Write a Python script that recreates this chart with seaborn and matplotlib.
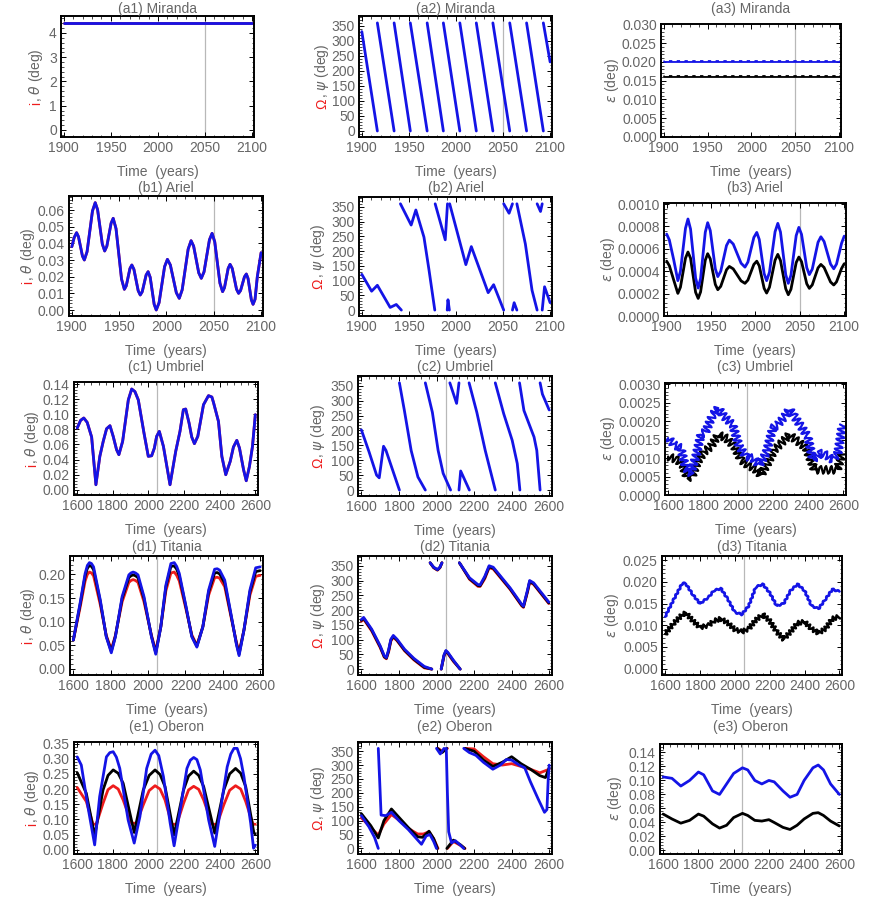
import numpy as np
import pandas as pd
import matplotlib.pyplot as plt
import seaborn as sns
from matplotlib.ticker import FormatStrFormatter, AutoMinorLocator

nan = np.nan

#%% dados
# (a) Miranda
a1_t = [1900, 2100]
a1_red = [4.41, 4.41]
a1_blue = [4.41, 4.41]

a2_t = [1900, 1916.5, nan, 1916.5, 1934.3, nan, 1934.3, 1951.5, nan, 1951.5, 1969.4, nan,
        1969.4, 1986.6, nan, 1986.6, 2004.1, nan, 2004.1, 2021.6, nan, 2021.6, 2039.2, nan,
        2039.2, 2057.1, nan, 2057.1, 2075.0, nan, 2075.0, 2092.8, nan, 2092.8, 2100]
a2_v = [331, 0, nan, 360, 0, nan, 360, 0, nan, 360, 0, nan,
        360, 0, nan, 360, 0, nan, 360, 0, nan, 360, 0, nan,
        360, 0, nan, 360, 0, nan, 360, 0, nan, 360, 230]

a3_t = [1900, 2100]
a3_blue = [0.0202, 0.0202]
a3_black = [0.0163, 0.0163]

# (b) Ariel
b1_t = [1900, 1902.5, 1905, 1907, 1911.2, 1913.2, 1916.1, 1921.8, 1924.7, 1927.2, 1932.2, 1934.7,
        1937, 1941.5, 1943.7, 1946.7, 1952.5, 1955.5, 1957.5, 1961.4, 1963.4, 1965.6, 1970.1,
        1972.3, 1974.4, 1978.5, 1980.6, 1982.8, 1987, 1989.2, 1992.2, 1998, 2001, 2004.1,
        2010.4, 2013.5, 2016.6, 2022.9, 2026, 2028.7, 2034.1, 2036.8, 2039.7, 2045.4, 2048.2,
        2051, 2056.5, 2059.3, 2061.3, 2065.2, 2067.2, 2069.5, 2074, 2076.2, 2078.3, 2082.4,
        2084.4, 2086.2, 2089.7, 2091.5, 2093.6, 2096, 2100]
b1_v = [0.038, 0.0435, 0.0464, 0.044, 0.0324, 0.030, 0.035, 0.0594, 0.0644, 0.0602, 0.0396,
        0.0354, 0.0383, 0.0521, 0.055, 0.0488, 0.0186, 0.0124, 0.0145, 0.0249, 0.027, 0.0244,
        0.0116, 0.009, 0.011, 0.021, 0.023, 0.0196, 0.0034, 0.000, 0.0044, 0.026, 0.0304, 0.027,
        0.0104, 0.007, 0.0121, 0.0365, 0.0416, 0.0383, 0.0223, 0.019, 0.0229, 0.0421, 0.046,
        0.0409, 0.0161, 0.011, 0.0134, 0.025, 0.0274, 0.0249, 0.0125, 0.010, 0.0117, 0.0199,
        0.0216, 0.0189, 0.0061, 0.0034, 0.0064, 0.020, 0.0344]

b2_t = [1900, 1910.4, 1916.5, 1930.1, 1936.6, 1942, nan,
        1941, 1952.4, 1957.4, 1966, 1971.4, 1977.5, nan,
        1977.9, 1988.6, 1991, nan,
        1990.7, 1991.5, 1993, nan,
        1993.3, 2010.5, 2016.3, 2034.2, 2040, 2050.7, nan,
        2050.7, 2056.4, 2060, nan,
        2060, 2061.8, 2064.7, nan,
        2064.7, 2073.7, 2080.8, 2086.2, nan,
        2086.2, 2089.8, 2091.6, nan,
        2091.6, 2094.1, 2100]
b2_v = [121, 64, 84, 9, 19, 0, nan,
        360, 288, 339, 247, 135, 0, nan,
        360, 238, 360, nan,
        0, 35, 0, nan,
        360, 154, 215, 59, 86, 0, nan,
        360, 328, 360, nan,
        0, 25, 0, nan,
        360, 224, 67, 0, nan,
        360, 334, 360, nan,
        0, 79, 25]

b3_t = [1900, 1903, 1908, 1912.6, 1915.5, 1921.2, 1924, 1926.9, 1932.6, 1935.5, 1938.2, 1943.5,
        1946.2, 1949.1, 1954.8, 1957.6, 1960.9, 1967.4, 1970.6, 1975, 1983.8, 1988.2, 1991.5,
        1998.2, 2001.5, 2004.3, 2009.8, 2012.6, 2015.8, 2022.1, 2025.2, 2028.2, 2034.1, 2037,
        2040, 2045.9, 2048.9, 2051.9, 2057.8, 2060.7, 2064, 2070.5, 2073.7, 2077.3, 2084.6,
        2088.2, 2091.3, 2097, 2100]
b3_blue = [0.000732, 0.00068, 0.0005, 0.000316, 0.000399, 0.000784, 0.000867, 0.000777, 0.00034,
           0.00025, 0.000335, 0.000749, 0.000834, 0.000764, 0.000422, 0.000352, 0.0004, 0.00063,
           0.000678, 0.000643, 0.000472, 0.000437, 0.000482, 0.000702, 0.000747, 0.000684,
           0.000379, 0.000316, 0.000391, 0.000753, 0.000828, 0.00075, 0.00037, 0.000292,
           0.000365, 0.000719, 0.000792, 0.00073, 0.000432, 0.00037, 0.000419, 0.000659,
           0.000708, 0.000666, 0.000464, 0.000422, 0.000464, 0.00065, 0.000714]
b3_black = [0.00049, 0.00045, 0.00032, 0.000202, 0.000257, 0.000517, 0.000572, 0.000517,
            0.000212, 0.000157, 0.000215, 0.000499, 0.000557, 0.000511, 0.000282, 0.000235,
            0.000265, 0.000413, 0.000443, 0.000421, 0.000314, 0.000292, 0.000321, 0.000461,
            0.00049, 0.000448, 0.000247, 0.000205, 0.000257, 0.000499, 0.000551, 0.000496,
            0.000244, 0.00019, 0.000239, 0.000478, 0.000527, 0.000486, 0.000288, 0.000247,
            0.000278, 0.00043, 0.000461, 0.000434, 0.000304, 0.000277, 0.000305, 0.000425,
            0.000467]

# (c) Umbriel
c1_t = [1600, 1619, 1637, 1656, 1681, 1705, 1727, 1746, 1765, 1784, 1802, 1821, 1834, 1855,
        1887, 1906, 1924, 1943, 1975, 1999, 2018, 2033, 2046, 2061, 2084, 2121, 2153, 2177,
        2196, 2209, 2228, 2243, 2258, 2277, 2309, 2337, 2356, 2365, 2393, 2412, 2434, 2459,
        2477, 2496, 2511, 2534, 2549, 2567, 2584, 2600]
c1_v = [0.0817, 0.0919, 0.095, 0.0892, 0.0698, 0.0066, 0.0442, 0.064, 0.0808, 0.0848, 0.0707,
        0.053, 0.0464, 0.064, 0.119, 0.1334, 0.130, 0.119, 0.075, 0.0442, 0.045, 0.055, 0.0707,
        0.0773, 0.0574, 0.0066, 0.0508, 0.0773, 0.106, 0.1069, 0.0883, 0.0698, 0.061, 0.0707,
        0.1126, 0.1246, 0.1228, 0.1157, 0.0905, 0.0442, 0.0199, 0.0375, 0.0565, 0.0654, 0.0552,
        0.0265, 0.0119, 0.0309, 0.0574, 0.0994]

c2_t = [1600, 1641, 1681, 1695, 1718, 1731, 1802.5, nan,
        1802.5, 1829, 1865, 1901, 1940.5, nan,
        1940.5, 1978, 2008.6, 2035.5, 2075, nan,
        2071, 2107, 2119.7, nan,
        2119.7, 2128.7, 2175, nan,
        2173.5, 2214.7, 2259.5, 2313, nan,
        2313, 2358, 2403, 2430, 2444, nan,
        2442, 2465.6, 2519.4, 2534, 2551.6, nan,
        2551.6, 2564, 2600]
c2_v = [202, 128, 50, 41, 147, 133, 0, nan,
        360, 267, 133, 44, 0, nan,
        360, 261, 133, 56, 0, nan,
        360, 291, 360, nan,
        0, 64, 0, nan,
        360, 261, 133, 0, nan,
        360, 256, 167, 89, 0, nan,
        360, 267, 178, 133, 0, nan,
        360, 322, 269]

c3_t_blue = [1600, 1634, 1672, 1701, 1730, 1758, 1787, 1815, 1854, 1886, 1920, 1968, 2006, 2044,
             2082, 2121, 2159, 2197, 2225, 2264, 2292, 2321, 2359, 2397, 2426, 2464, 2502, 2540,
             2569, 2594]
c3_blue = [0.00154, 0.00136, 0.00127, 0.00072, 0.00059, 0.00104, 0.00163, 0.00172, 0.00217,
           0.00235, 0.00212, 0.0019, 0.00131, 0.00104, 0.00099, 0.00081, 0.00113, 0.00181, 0.0019,
           0.00212, 0.00232, 0.00212, 0.00185, 0.00158, 0.00095, 0.00113, 0.00108, 0.00095,
           0.00113, 0.0019]
c3_t_black = [1600, 1653, 1682, 1711, 1739, 1768, 1806, 1844, 1886, 1930, 1978, 2016, 2054, 2092,
              2130, 2168, 2206, 2245, 2292, 2340, 2388, 2435, 2473, 2521, 2565, 2594]
c3_black = [0.00104, 0.00095, 0.00081, 0.00045, 0.00054, 0.0009, 0.00117, 0.00131, 0.00163,
            0.00154, 0.00131, 0.00095, 0.00081, 0.00072, 0.00054, 0.00086, 0.00122, 0.0014,
            0.00163, 0.00145, 0.00127, 0.00068, 0.00068, 0.00068, 0.00068, 0.00113]

# (d) Titania
d1_t = [1600, 1636, 1663, 1675, 1686, 1697, 1708, 1744, 1776, 1803, 1825, 1861, 1897, 1908, 1920,
        1933, 1946, 1978, 2018, 2041, 2068, 2095, 2122, 2140, 2153, 2167, 2203, 2234, 2261, 2293,
        2324, 2356, 2370, 2383, 2410, 2446, 2473, 2487, 2513, 2545, 2576, 2600]
d1_blue = [0.061, 0.139, 0.202, 0.219, 0.225, 0.223, 0.216, 0.146, 0.068, 0.034, 0.068, 0.153,
           0.199, 0.203, 0.205, 0.203, 0.199, 0.153, 0.068, 0.031, 0.089, 0.177, 0.223, 0.225,
           0.217, 0.202, 0.132, 0.068, 0.046, 0.089, 0.167, 0.211, 0.212, 0.209, 0.188, 0.111,
           0.051, 0.028, 0.082, 0.167, 0.214, 0.216]
d1_black = [0.061, 0.136, 0.197, 0.213, 0.219, 0.217, 0.210, 0.143, 0.069, 0.037, 0.069, 0.149,
            0.193, 0.197, 0.199, 0.197, 0.193, 0.149, 0.069, 0.034, 0.089, 0.173, 0.217, 0.218,
            0.211, 0.197, 0.130, 0.069, 0.048, 0.089, 0.163, 0.203, 0.204, 0.201, 0.182, 0.109,
            0.053, 0.031, 0.082, 0.163, 0.206, 0.208]
d1_red = [0.061, 0.130, 0.186, 0.200, 0.205, 0.203, 0.197, 0.136, 0.071, 0.041, 0.071, 0.142,
          0.183, 0.187, 0.189, 0.187, 0.183, 0.142, 0.071, 0.038, 0.089, 0.165, 0.203, 0.205,
          0.198, 0.186, 0.126, 0.072, 0.050, 0.089, 0.156, 0.193, 0.194, 0.192, 0.174, 0.106,
          0.056, 0.036, 0.082, 0.156, 0.196, 0.198]

d2_t = [1600, 1612, 1655, 1700, 1722, 1733, 1745, 1757, 1770, 1790, 1830, 1880, 1935, 1975, nan,
        1966, 1985, 2005, 2018, 2029, nan,
        2025, 2040, 2050, 2060, 2090, 2126, nan,
        2122, 2176, 2221, 2232, 2257, 2280, 2302, 2392, 2454, 2463, 2485, 2496, 2517, 2598]
d2_blue = [168, 175, 135, 79, 45, 39, 65, 101, 114, 101, 67, 36, 9, 0, nan,
           360, 345, 337, 345, 360, nan,
           0, 48, 63, 57, 30, 0, nan,
           360, 309, 286, 285, 314, 350, 345, 275, 219, 213, 269, 300, 292, 227]
d2_black = [165, 172, 132, 76, 42, 37, 62, 98, 111, 98, 64, 33, 6, 0, nan,
            360, 344, 336, 344, 360, nan,
            0, 46, 61, 55, 28, 0, nan,
            360, 306, 283, 282, 310, 346, 342, 272, 216, 211, 265, 297, 289, 224]
d2_red = [162, 169, 129, 73, 40, 35, 58, 95, 108, 96, 62, 31, 4, 0, nan,
          360, 343, 335, 343, 360, nan,
          0, 44, 59, 53, 26, 0, nan,
          360, 304, 280, 280, 306, 343, 339, 270, 214, 209, 262, 294, 287, 222]

d3_t = [1600, 1650, 1700, 1720, 1760, 1800, 1850, 1880, 1920, 1960, 2000, 2040, 2080, 2120,
        2160, 2200, 2240, 2280, 2320, 2360, 2400, 2440, 2480, 2520, 2560, 2600]
d3_blue = [0.0120, 0.0160, 0.0198, 0.0195, 0.0170, 0.0150, 0.0165, 0.0180, 0.0185, 0.0160,
           0.0130, 0.0125, 0.0145, 0.0188, 0.0195, 0.0175, 0.0145, 0.0150, 0.0180, 0.0195,
           0.0180, 0.0145, 0.0138, 0.0160, 0.0183, 0.0178]
d3_black = [0.0080, 0.0105, 0.0125, 0.0128, 0.0110, 0.0095, 0.0100, 0.0110, 0.0115, 0.0105,
            0.0090, 0.0085, 0.0092, 0.0112, 0.0125, 0.0110, 0.0085, 0.0068, 0.0085, 0.0105,
            0.0108, 0.0092, 0.0082, 0.0092, 0.0115, 0.0120]

# (e) Oberon
e1_t_blue = [1600, 1623, 1660, 1698, 1726, 1764, 1783, 1802, 1820, 1839, 1886, 1920, 1952, 1990,
             2015, 2037, 2058, 2084, 2122, 2144, 2178, 2216, 2235, 2254, 2272, 2291, 2338, 2372,
             2404, 2442, 2462, 2480, 2498, 2517, 2536, 2574, 2590, 2600]
e1_blue = [0.306, 0.279, 0.142, 0.016, 0.175, 0.306, 0.320, 0.323, 0.305, 0.268, 0.098, 0.022,
           0.109, 0.268, 0.315, 0.328, 0.310, 0.241, 0.0875, 0.013, 0.131, 0.268, 0.295, 0.304,
           0.297, 0.263, 0.098, 0.011, 0.131, 0.273, 0.315, 0.334, 0.334, 0.300, 0.241, 0.0875,
           0.005, 0.015]
e1_t_black = [1600, 1651, 1698, 1745, 1773, 1802, 1830, 1858, 1920, 1971, 2004, 2037, 2065, 2093,
              2144, 2197, 2225, 2254, 2282, 2310, 2372, 2423, 2456, 2489, 2518, 2546, 2592, 2600]
e1_black = [0.254, 0.186, 0.046, 0.197, 0.245, 0.263, 0.252, 0.219, 0.057, 0.197, 0.245, 0.263,
            0.248, 0.208, 0.049, 0.197, 0.243, 0.259, 0.245, 0.208, 0.055, 0.197, 0.250, 0.268,
            0.252, 0.208, 0.055, 0.052]
e1_t_red = [1600, 1651, 1689, 1707, 1745, 1773, 1802, 1830, 1858, 1905, 1933, 1971, 2004, 2037,
            2065, 2093, 2131, 2159, 2197, 2225, 2254, 2282, 2310, 2357, 2385, 2423, 2456, 2489,
            2518, 2546, 2587, 2600]
e1_red = [0.205, 0.159, 0.084, 0.084, 0.153, 0.198, 0.211, 0.200, 0.164, 0.0875, 0.0875, 0.148,
          0.195, 0.211, 0.200, 0.164, 0.084, 0.084, 0.153, 0.197, 0.209, 0.199, 0.164, 0.084,
          0.084, 0.148, 0.196, 0.211, 0.200, 0.159, 0.084, 0.084]

e2_t_blue = [1600, 1640, 1670, 1690, nan,
             1690, 1697, 1705, 1730, 1760, 1800, 1850, 1900, 1920, 1945, 1965, 1985, 2000, nan,
             2000, 2020, 2040, nan,
             2052, 2058, 2065, 2080, 2100, 2130, 2145, nan,
             2145, 2175, 2210, 2250, 2300, 2340, 2372, 2400, 2440, 2470, 2500, 2540, 2575, 2588,
             2595, 2600]
e2_blue = [118, 78, 40, 0, nan,
           360, 250, 120, 118, 130, 100, 68, 30, 15, 45, 50, 25, 0, nan,
           360, 340, 360, nan,
           360, 200, 60, 20, 28, 10, 0, nan,
           360, 345, 335, 310, 285, 300, 320, 318, 300, 290, 240, 180, 130, 140,
           250, 300]
e2_t_black = [1600, 1650, 1690, 1720, 1760, 1800, 1850, 1900, 1925, 1960, 1985, 2005, nan,
              2005, 2030, 2055, nan,
              2055, 2090, 2130, 2150, nan,
              2150, 2200, 2250, 2300, 2350, 2400, 2450, 2500, 2550, 2580, 2600]
e2_black = [125, 82, 38, 100, 142, 112, 75, 42, 40, 62, 35, 0, nan,
            360, 345, 360, nan,
            0, 30, 12, 0, nan,
            360, 350, 318, 295, 310, 330, 305, 285, 262, 255, 290]
e2_t_red = [1600, 1650, 1690, 1720, 1760, 1800, 1850, 1900, 1930, 1960, 1985, 2008, nan,
            2008, 2030, 2058, nan,
            2058, 2090, 2130, 2152, nan,
            2152, 2200, 2250, 2300, 2350, 2400, 2450, 2500, 2550, 2600]
e2_red = [110, 75, 48, 88, 122, 102, 72, 52, 52, 60, 35, 0, nan,
          360, 350, 360, nan,
          0, 25, 10, 0, nan,
          360, 358, 330, 305, 300, 305, 295, 285, 272, 285]

e3_t = [1600, 1650, 1700, 1750, 1800, 1830, 1880, 1920, 1960, 2000, 2050, 2080, 2120, 2160,
        2200, 2230, 2280, 2320, 2360, 2400, 2450, 2480, 2510, 2550, 2600]
e3_blue = [0.105, 0.103, 0.092, 0.100, 0.112, 0.108, 0.085, 0.080, 0.095, 0.110, 0.118, 0.115,
           0.100, 0.095, 0.100, 0.098, 0.085, 0.076, 0.080, 0.100, 0.118, 0.122, 0.115, 0.095,
           0.080]
e3_black = [0.052, 0.045, 0.039, 0.043, 0.052, 0.049, 0.038, 0.032, 0.036, 0.047, 0.053, 0.050,
            0.043, 0.042, 0.044, 0.040, 0.033, 0.030, 0.036, 0.045, 0.053, 0.054, 0.050, 0.042,
            0.035]

#%% estilo
sns.set_theme(style="ticks")
plt.rcParams['font.family'] = ['Liberation Sans', 'DejaVu Sans']
plt.rcParams['mathtext.fontset'] = 'dejavusans'

gray = '#666666'
blue = '#1414e6'
red = '#ee1c1c'
black = '#000000'

W, H = 872, 899
fig = plt.figure(figsize=(W / 100, H / 100), dpi=100)

# caixas dos eixos em pixels (esq, topo, dir, base)
pos = {
    'a1': (61, 16, 254, 137), 'a2': (359, 16, 552, 137), 'a3': (661, 24, 841, 137),
    'b1': (69, 196, 263, 316), 'b2': (359, 197, 552, 316), 'b3': (664, 203, 846, 316),
    'c1': (74, 382, 258, 495), 'c2': (358, 376, 552, 496), 'c3': (665, 383, 846, 495),
    'd1': (70, 556, 263, 675), 'd2': (358, 556, 552, 675), 'd3': (662, 556, 842, 675),
    'e1': (74, 742, 258, 854), 'e2': (358, 742, 552, 854), 'e3': (660, 744, 842, 854),
}
title_y = {'a': 9, 'b': 188, 'c': 367, 'd': 547, 'e': 727}
ylab_x = {'a1': 36, 'b1': 28, 'c1': 32, 'd1': 28, 'e1': 32,
          'a2': 322, 'b2': 318, 'c2': 318, 'd2': 318, 'e2': 318,
          'a3': 612, 'b3': 608, 'c3': 608, 'd3': 612, 'e3': 615}
names = {'a': 'Miranda', 'b': 'Ariel', 'c': 'Umbriel', 'd': 'Titania', 'e': 'Oberon'}


def seg_frame(t, v):
    t = np.asarray(t, float)
    v = np.asarray(v, float)
    df = pd.DataFrame({'t': t, 'v': v, 'seg': np.cumsum(np.isnan(v))})
    return df.dropna()


def curve(ax, t, v, color, lw=2.0, sketch=None):
    n0 = len(ax.lines)
    sns.lineplot(data=seg_frame(t, v), x='t', y='v', units='seg', estimator=None,
                 sort=False, color=color, lw=lw, ax=ax, legend=False,
                 solid_joinstyle='round', solid_capstyle='round')
    if sketch is not None:
        # oscilação rápida desenhada como estilo de traço
        for ln in ax.lines[n0:]:
            ln.set_sketch_params(*sketch)


def panel(key, xlim, xticks, ylim, yticks, fmt):
    l, t, r, b = pos[key]
    ax = fig.add_axes([l / W, 1 - b / H, (r - l) / W, (b - t) / H])
    ax.axvline(2050, color='#b8b8b8', lw=0.9, zorder=0)
    ax.set_xlim(xlim)
    ax.set_ylim(ylim)
    ax.set_xticks(xticks)
    ax.set_yticks(yticks)
    ax.yaxis.set_major_formatter(FormatStrFormatter(fmt))
    ax.xaxis.set_minor_locator(AutoMinorLocator(5))
    ax.yaxis.set_minor_locator(AutoMinorLocator(5))
    ax.tick_params(which='both', direction='in', top=True, right=True, color='black',
                   labelcolor=gray, labelsize=10, pad=3)
    ax.tick_params(which='major', length=3.5, width=0.7)
    ax.tick_params(which='minor', length=1.8, width=0.5)
    for s in ax.spines.values():
        s.set_linewidth(1.4)
        s.set_color('black')
    fig.text((l + r) / 2 / W, 1 - title_y[key[0]] / H, f"({key}) {names[key[0]]}",
             ha='center', va='center', color=gray, fontsize=10)
    return ax


def finish(ax):
    ax.set_xlabel("Time  (years)", color=gray, fontsize=10, labelpad=7)
    ax.set_ylabel("")


short = (1897, 2102)
long_ = (1582, 2615)
xt_s = [1900, 1950, 2000, 2050, 2100]
xt_l = [1600, 1800, 2000, 2200, 2400, 2600]

#%% coluna 1: i, theta
ax = panel('a1', short, xt_s, (-0.29, 4.7), [0, 1, 2, 3, 4], '%d')
curve(ax, a1_t, a1_red, red)
curve(ax, a1_t, a1_blue, blue)
finish(ax)

ax = panel('b1', short, xt_s, (-0.0036, 0.0684), np.arange(0, 0.061, 0.01), '%.2f')
curve(ax, b1_t, b1_v, red)
curve(ax, b1_t, b1_v, blue)
finish(ax)

ax = panel('c1', long_, xt_l, (-0.007, 0.1427), np.arange(0, 0.141, 0.02), '%.2f')
curve(ax, c1_t, c1_v, red)
curve(ax, c1_t, c1_v, blue)
finish(ax)

ax = panel('d1', long_, xt_l, (-0.013, 0.239), np.arange(0, 0.201, 0.05), '%.2f')
curve(ax, d1_t, d1_red, red)
curve(ax, d1_t, d1_black, black)
curve(ax, d1_t, d1_blue, blue)
finish(ax)

ax = panel('e1', long_, xt_l, (-0.014, 0.355), np.arange(0, 0.351, 0.05), '%.2f')
curve(ax, e1_t_red, e1_red, red)
curve(ax, e1_t_black, e1_black, black)
curve(ax, e1_t_blue, e1_blue, blue)
finish(ax)

#%% coluna 2: Omega, psi
ang = (-20, 383)
yt_ang = list(range(0, 351, 50))
ax = panel('a2', short, xt_s, ang, yt_ang, '%d')
curve(ax, a2_t, a2_v, blue)
finish(ax)

ax = panel('b2', short, xt_s, ang, yt_ang, '%d')
curve(ax, b2_t, b2_v, blue)
finish(ax)

ax = panel('c2', long_, xt_l, ang, yt_ang, '%d')
curve(ax, c2_t, c2_v, blue)
finish(ax)

ax = panel('d2', long_, xt_l, ang, yt_ang, '%d')
curve(ax, d2_t, d2_red, red)
curve(ax, d2_t, d2_black, black)
curve(ax, d2_t, d2_blue, blue)
finish(ax)

ax = panel('e2', long_, xt_l, ang, yt_ang, '%d')
curve(ax, e2_t_red, e2_red, red)
curve(ax, e2_t_black, e2_black, black)
curve(ax, e2_t_blue, e2_blue, blue)
finish(ax)

#%% coluna 3: epsilon
ax = panel('a3', short, xt_s, (0, 0.0301), np.arange(0, 0.0301, 0.005), '%.3f')
curve(ax, a3_t, a3_black, black)
curve(ax, a3_t, a3_blue, blue)
ax.plot(a3_t, np.array(a3_black) + 0.0002, color='white', lw=0.8, ls=(0, (4, 3)))
ax.plot(a3_t, np.array(a3_blue) + 0.0002, color='white', lw=0.8, ls=(0, (4, 3)))
finish(ax)

ax = panel('b3', short, xt_s, (0, 0.00101), np.arange(0, 0.00101, 0.0002), '%.4f')
curve(ax, b3_t, b3_black, black)
curve(ax, b3_t, b3_blue, blue)
finish(ax)

ax = panel('c3', long_, xt_l, (0, 0.00303), np.arange(0, 0.00301, 0.0005), '%.4f')
curve(ax, c3_t_black, c3_black, black, lw=1.6, sketch=(4, 5, 1))
curve(ax, c3_t_blue, c3_blue, blue, lw=1.6, sketch=(4, 5, 1))
finish(ax)

ax = panel('d3', long_, xt_l, (-0.0015, 0.026), np.arange(0, 0.0251, 0.005), '%.3f')
curve(ax, d3_t, d3_black, black, lw=1.8, sketch=(2, 4, 1))
curve(ax, d3_t, d3_blue, blue, lw=1.9, sketch=(0.8, 5, 1))
finish(ax)

ax = panel('e3', long_, xt_l, (-0.005, 0.152), np.arange(0, 0.141, 0.02), '%.2f')
curve(ax, e3_t, e3_black, black)
curve(ax, e3_t, e3_blue, blue)
finish(ax)

#%% rótulos y com a primeira letra colorida
labels = {}
for key in pos:
    l, t, r, b = pos[key]
    xf = (ylab_x[key] + 4) / W
    yf = 1 - (t + b) / 2 / H
    col = key[1]
    if col == '1':
        full, head, rest = r"i, $\theta$ (deg)", "i", r", $\theta$ (deg)"
    elif col == '2':
        full, head, rest = r"Ω, $\psi$ (deg)", "Ω", r", $\psi$ (deg)"
    else:
        full, head, rest = r"$\epsilon$ (deg)", None, None
    txt = fig.text(xf, yf, full, rotation=90, rotation_mode='anchor', ha='center',
                   va='baseline', color=gray, fontsize=10)
    labels[key] = (txt, xf, head, rest)

fig.canvas.draw()
renderer = fig.canvas.get_renderer()
for key, (txt, xf, head, rest) in labels.items():
    if head is None:
        continue
    bb = txt.get_window_extent(renderer)
    txt.remove()
    fh = fig.bbox.height
    fig.text(xf, bb.y0 / fh, head, rotation=90, rotation_mode='anchor',
             ha='left', va='baseline', color=red, fontsize=10)
    fig.text(xf, bb.y1 / fh, rest, rotation=90, rotation_mode='anchor',
             ha='right', va='baseline', color=gray, fontsize=10)

plt.savefig("out.png", dpi=100)
